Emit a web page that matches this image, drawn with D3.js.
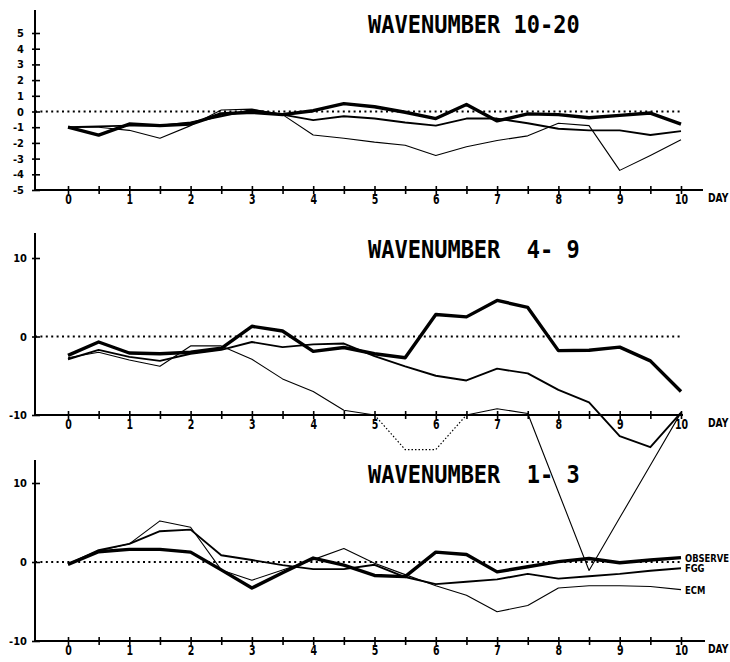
<!DOCTYPE html>
<html>
<head>
<meta charset="utf-8">
<script src="https://cdn.jsdelivr.net/npm/d3@7"></script>
<style>
body { margin: 0; background: #fff; }
text { font-family: "DejaVu Sans Condensed", "DejaVu Sans", sans-serif; font-weight: bold; fill: #000; }
.title { font-family: "DejaVu Sans Mono", monospace; font-size: 22px; white-space: pre; }
</style>
</head>
<body>
<svg id="chart"></svg>
<script>
// forecast error by wavenumber band
var days = [0, 0.5, 1, 1.5, 2, 2.5, 3, 3.5, 4, 4.5, 5, 5.5, 6, 6.5, 7, 7.5, 8, 8.5, 9, 9.5, 10];
var dayLabels = ["0", "1", "2", "3", "4", "5", "6", "7", "8", "9", "10"];
var seriesNames = ["OBSERVE", "FGG", "ECM"];

var titles = ["WAVENUMBER 10-20", "WAVENUMBER  4- 9", "WAVENUMBER  1- 3"];
var ticks1020 = [5, 4, 3, 2, 1, 0, -1, -2, -3, -4, -5];
var ticksWide = [10, 0, -10];

var obs1020 = [-1.0, -1.5, -0.8, -0.9, -0.8, -0.15, -0.05, -0.2, 0.05, 0.5, 0.3, -0.05, -0.45, 0.45, -0.6, -0.15, -0.2, -0.4, -0.25, -0.1, -0.8];
var fgg1020 = [-1.0, -0.95, -0.9, -0.9, -0.7, -0.3, 0.1, -0.2, -0.55, -0.3, -0.45, -0.7, -0.9, -0.45, -0.45, -0.75, -1.1, -1.2, -1.2, -1.5, -1.25];
var ecm1020 = [-1.0, -1.0, -1.2, -1.7, -0.9, 0.1, 0.15, -0.2, -1.5, -1.7, -1.95, -2.15, -2.8, -2.25, -1.85, -1.55, -0.75, -0.9, -3.75, -2.8, -1.8];

var obs49 = [-2.4, -0.7, -2.1, -2.2, -2.0, -1.5, 1.3, 0.7, -1.9, -1.4, -2.2, -2.7, 2.8, 2.5, 4.6, 3.7, -1.8, -1.75, -1.35, -3.1, -7.0];
var fgg49 = [-2.9, -1.7, -2.6, -3.1, -2.2, -1.7, -0.7, -1.35, -1.0, -0.9, -2.5, -3.8, -5.0, -5.6, -4.1, -4.7, -6.8, -8.4, -12.7, -14.1, -9.7];
var ecm49 = [-2.7, -2.0, -3.0, -3.8, -1.2, -1.2, -2.9, -5.4, -7.0, -9.4, -10.0, -14.4, -14.4, -10.0, -9.2, -9.8, -19.8, -29.8, -23.1, -16.4, -9.7];

var obs13 = [-0.3, 1.3, 1.6, 1.6, 1.25, -1.0, -3.3, -1.35, 0.5, -0.4, -1.7, -1.85, 1.25, 0.95, -1.25, -0.6, 0.05, 0.45, -0.1, 0.25, 0.55];
var fgg13 = [-0.3, 1.5, 2.3, 3.9, 4.1, 0.85, 0.25, -0.4, -0.9, -0.9, -0.35, -1.9, -2.8, -2.5, -2.2, -1.5, -2.1, -1.8, -1.5, -1.1, -0.8];
var ecm13 = [-0.3, 1.4, 2.3, 5.2, 4.4, -1.0, -2.3, -1.0, 0.3, 1.7, -0.15, -1.6, -3.0, -4.2, -6.3, -5.5, -3.3, -3.0, -3.0, -3.1, -3.5];

// ECM in the 4-9 panel is drawn dotted between these days
var dottedDays = [5, 6.5];

var width = 730, height = 662;
var axisX = 35;
var lineWidths = [3.4, 1.9, 1.1];

// layout for each panel: where the value range sits on the page
var panels = [
    {title: titles[0], ticks: ticks1020, dom: [-5, 5], rng: [190, 33], top: 10, xEnd: 703, labelDx: -11, series: [obs1020, fgg1020, ecm1020]},
    {title: titles[1], ticks: ticksWide, dom: [-10, 10], rng: [415, 258], top: 233, xEnd: 683, labelDx: -8, series: [obs49, fgg49, ecm49]},
    {title: titles[2], ticks: ticksWide, dom: [-10, 10], rng: [641, 483], top: 460, xEnd: 705, labelDx: -8, series: [obs13, fgg13, ecm13], legend: true}
];

var svg = d3.select('#chart')
    .attr('width', width)
    .attr('height', height);

var x = d3.scaleLinear().domain([0, 10]).range([68, 681]);

panels.forEach(function(p, pi) {
    var y = d3.scaleLinear().domain(p.dom).range(p.rng);
    var g = svg.append('g');
    var base = y(p.dom[0]);

    // y axis line from the top down to the x axis
    g.append('line')
        .attr('x1', axisX).attr('x2', axisX)
        .attr('y1', p.top).attr('y2', base)
        .attr('stroke', '#000').attr('stroke-width', 2);

    // x axis line
    g.append('line')
        .attr('x1', axisX).attr('x2', p.xEnd)
        .attr('y1', base).attr('y2', base)
        .attr('stroke', '#000').attr('stroke-width', 2);

    // y ticks
    var yAxis = d3.axisLeft(y).tickValues(p.ticks).tickSize(3).tickFormat(d3.format('d'));
    var ya = g.append('g').attr('transform', 'translate(' + axisX + ',0)').call(yAxis);
    ya.select('.domain').remove();
    ya.selectAll('line').attr('x1', 5).attr('x2', -3).attr('stroke', '#000').attr('stroke-width', 1.6);
    ya.selectAll('text')
        .attr('x', p.labelDx)
        .style('font-size', '11px')
        .style('font-family', '"DejaVu Sans Condensed", sans-serif')
        .style('font-weight', 'bold')
        .attr('fill', '#000')
        .text(function(d) { return String(d); });

    // x ticks every half day, labels on whole days
    var xAxis = d3.axisBottom(x).tickValues(days).tickSize(4)
        .tickFormat(function(d) { return d % 1 === 0 ? dayLabels[d] : ''; });
    var xa = g.append('g').attr('transform', 'translate(0,' + base + ')').call(xAxis);
    xa.select('.domain').remove();
    xa.selectAll('line').attr('y1', -4).attr('y2', 4).attr('stroke', '#000').attr('stroke-width', 1.6);
    xa.selectAll('text')
        .attr('y', 4)
        .attr('dy', '0.71em')
        .attr('transform', 'scale(0.75,1)')
        .style('font-size', '14px')
        .style('font-family', '"DejaVu Sans Condensed", sans-serif')
        .style('font-weight', 'bold')
        .attr('fill', '#000');

    g.append('text')
        .attr('transform', 'translate(708,' + (base + 12) + ') scale(0.85,1)')
        .style('font-size', '12px')
        .text('DAY');

    // zero line
    g.append('line')
        .attr('x1', axisX).attr('x2', x(10))
        .attr('y1', y(0)).attr('y2', y(0))
        .attr('stroke', '#000').attr('stroke-width', 2)
        .attr('stroke-dasharray', '2,3.4');

    // title
    g.append('text')
        .attr('class', 'title')
        .attr('transform', 'translate(368,' + y(p.dom[1]) + ') scale(1,1.15)')
        .text(p.title);

    var line = d3.line()
        .x(function(d) { return x(d[0]); })
        .y(function(d) { return y(d[1]); });

    p.series.forEach(function(vals, si) {
        var pts = days.map(function(d, i) { return [d, vals[i]]; });
        if (pi === 1 && si === 2) {
            var before = pts.filter(function(d) { return d[0] <= dottedDays[0]; });
            var mid = pts.filter(function(d) { return d[0] >= dottedDays[0] && d[0] <= dottedDays[1]; });
            var after = pts.filter(function(d) { return d[0] >= dottedDays[1]; });
            [before, after].forEach(function(part) {
                g.append('path').datum(part).attr('d', line)
                    .attr('fill', 'none').attr('stroke', '#000')
                    .attr('stroke-width', lineWidths[si]).attr('stroke-linejoin', 'round');
            });
            g.append('path').datum(mid).attr('d', line)
                .attr('fill', 'none').attr('stroke', '#000')
                .attr('stroke-width', 1.2).attr('stroke-dasharray', '1.5,2');
        } else {
            g.append('path').datum(pts).attr('d', line)
                .attr('fill', 'none').attr('stroke', '#000')
                .attr('stroke-width', lineWidths[si]).attr('stroke-linejoin', 'round');
        }
        if (p.legend) {
            g.append('text')
                .attr('transform', 'translate(' + (x(10) + 4) + ',' + (y(vals[vals.length - 1]) + 4) + ') scale(0.85,1)')
                .style('font-size', '11px')
                .text(seriesNames[si]);
        }
    });
});
</script>
</body>
</html>
